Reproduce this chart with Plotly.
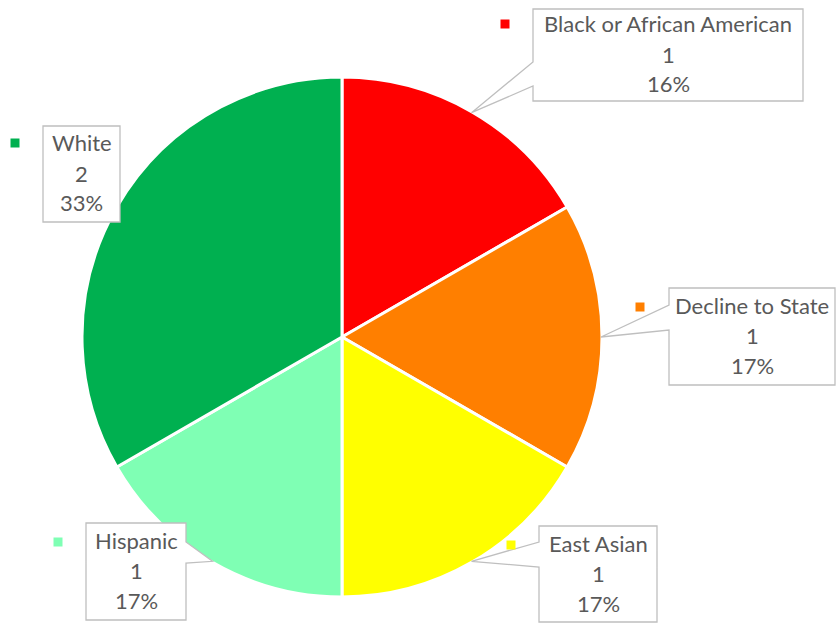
import math
import plotly.graph_objects as go

# ---- data ----
labels = ["Black or African American", "Decline to State", "East Asian", "Hispanic", "White"]
values = [1, 1, 1, 1, 2]
pct_labels = ["16%", "17%", "17%", "17%", "33%"]
colors = ["#FF0000", "#FF7F00", "#FFFF00", "#7FFFB4", "#00B050"]

# ---- layout constants (pixels) ----
W, H = 836, 624
CX, CY, R = 342, 337, 260

# callout boxes: x0, x1, y0, y1, side of pointer, pointer base (b1, b2)
boxes = [
    (533, 803, 9, 101, "left", 62, 86),
    (669, 835, 288, 385, "left", 305, 330),
    (539, 657, 526, 622, "left", 542, 567),
    (86, 186, 523, 620, "right", 542, 563),
    (43, 120, 126, 222, None, 0, 0),
]
keys = [(505, 24), (640, 307), (511, 545), (58, 542), (15, 143)]


def px(x):
    return x / W


def py(y):
    return 1 - y / H


fig = go.Figure(go.Pie(
    labels=labels, values=values, sort=False, direction="clockwise", rotation=0,
    marker=dict(colors=colors, line=dict(color="white", width=3)),
    textinfo="none", hoverinfo="label+value+percent", showlegend=False,
    domain=dict(x=[px(CX - R), px(CX + R)], y=[py(CY + R), py(CY - R)]),
))

shapes = []
annotations = []
total = sum(values)
cum = 0
for i, v in enumerate(values):
    theta = 2 * math.pi * (cum + v / 2) / total
    cum += v
    tx = CX + (R - 1) * math.sin(theta)
    ty = CY - (R - 1) * math.cos(theta)
    x0, x1, y0, y1, side, b1, b2 = boxes[i]
    if side == "left":
        pts = [(x0, y0), (x1, y0), (x1, y1), (x0, y1), (x0, b2), (tx, ty), (x0, b1)]
    elif side == "right":
        pts = [(x0, y0), (x1, y0), (x1, b1), (tx, ty), (x1, b2), (x1, y1), (x0, y1)]
    else:
        pts = [(x0, y0), (x1, y0), (x1, y1), (x0, y1)]
    path = "M " + " L ".join(f"{px(a):.5f},{py(b):.5f}" for a, b in pts) + " Z"
    shapes.append(dict(type="path", path=path, xref="paper", yref="paper",
                       fillcolor="white", line=dict(color="#BFBFBF", width=1.3)))
    # legend key square
    kx, ky = keys[i]
    shapes.append(dict(type="rect", xref="paper", yref="paper",
                       x0=px(kx - 4.5), x1=px(kx + 4.5), y0=py(ky + 4.5), y1=py(ky - 4.5),
                       fillcolor=colors[i], line=dict(width=0)))
    cxb = (x0 + x1) / 2
    cyb = (y0 + y1) / 2
    lines = [labels[i], str(values[i]), pct_labels[i]]
    for j, t in enumerate(lines):
        annotations.append(dict(
            x=px(cxb), y=py(cyb - 1 + (j - 1) * 30), xref="paper", yref="paper",
            text=t, showarrow=False, xanchor="center", yanchor="middle",
            font=dict(family="Lato", size=22, color="#595959"),
        ))

fig.update_layout(
    width=W, height=H, margin=dict(l=0, r=0, t=0, b=0),
    paper_bgcolor="white", plot_bgcolor="white",
    shapes=shapes, annotations=annotations,
)

fig.write_html("out.html", config={"displayModeBar": False},
               post_script="document.body.style.margin='0';document.body.style.overflow='hidden';")
